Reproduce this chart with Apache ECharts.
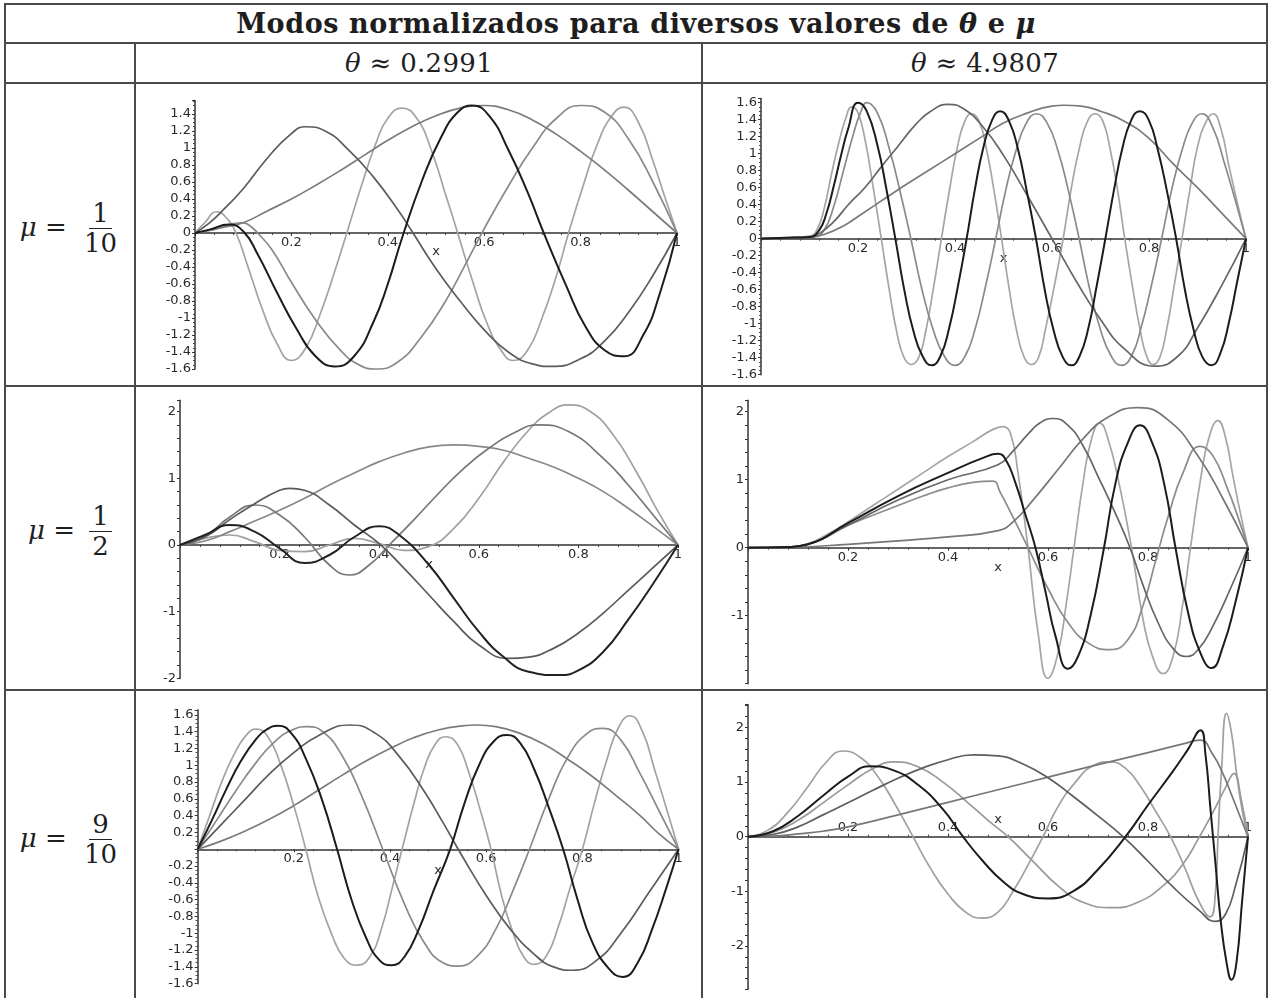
<!DOCTYPE html>
<html>
<head>
<meta charset="utf-8">
<script src="https://cdn.jsdelivr.net/npm/echarts/dist/echarts.min.js"></script>
<style>
  html, body { margin: 0; padding: 0; background: #fff; }
  #page { position: relative; width: 1272px; height: 998px; overflow: hidden; font-family: "DejaVu Serif", serif; color: #1e1e1e; }
  .hl { position: absolute; height: 2px; background: #4a4a4a; }
  .vl { position: absolute; width: 2px; background: #4a4a4a; }
  .txt { position: absolute; text-align: center; white-space: nowrap; }
  .frac { display: inline-flex; flex-direction: column; align-items: center; vertical-align: middle; line-height: 1.05; margin-left: 6px; }
  .frac .num { border-bottom: 1.6px solid #222; padding: 0 3px 1px 3px; }
  .frac .den { padding: 1px 3px 0 3px; }
  #chart { position: absolute; left: 0; top: 0; width: 1272px; height: 998px; }
</style>
</head>
<body>
<div id="page">
  <div class="hl" style="left:4px;top:3px;width:1264px"></div>
  <div class="hl" style="left:4px;top:42px;width:1264px"></div>
  <div class="hl" style="left:4px;top:82px;width:1264px"></div>
  <div class="hl" style="left:4px;top:385px;width:1264px"></div>
  <div class="hl" style="left:4px;top:689px;width:1264px"></div>
  <div class="vl" style="left:4px;top:3px;height:995px"></div>
  <div class="vl" style="left:1266px;top:3px;height:995px"></div>
  <div class="vl" style="left:134px;top:42px;height:956px"></div>
  <div class="vl" style="left:701px;top:42px;height:956px"></div>

  <div class="txt" style="left:4px;width:1264px;top:5px;line-height:37px;font-size:27px;letter-spacing:0.6px;font-weight:bold">Modos normalizados para diversos valores de <i>θ</i> e <i>μ</i></div>
  <div class="txt" style="left:136px;width:566px;top:44px;line-height:38px;font-size:26px;letter-spacing:0.3px"><i>θ</i> ≈ 0.2991</div>
  <div class="txt" style="left:703px;width:564px;top:44px;line-height:38px;font-size:26px;letter-spacing:0.3px"><i>θ</i> ≈ 4.9807</div>

  <div class="txt" style="left:6px;width:128px;top:200px;font-size:26px"><i>μ</i> = <span class="frac"><span class="num">1</span><span class="den">10</span></span></div>
  <div class="txt" style="left:6px;width:128px;top:503px;font-size:26px"><i>μ</i> = <span class="frac"><span class="num">1</span><span class="den">2</span></span></div>
  <div class="txt" style="left:6px;width:128px;top:811px;font-size:26px"><i>μ</i> = <span class="frac"><span class="num">9</span><span class="den">10</span></span></div>

  <div id="chart"></div>
</div>
<script>
// x tick values shared by every panel
const xTicks = [0.2, 0.4, 0.6, 0.8, 1];

// mu = 1/10, theta ~ 0.2991
const p1Mode1 = [[0,0],[0.03,0.03],[0.06,0.07],[0.1,0.12],[0.15,0.26],[0.2,0.4],[0.25,0.56],[0.3,0.73],[0.35,0.91],[0.4,1.09],[0.45,1.25],[0.5,1.38],[0.55,1.47],[0.6,1.5],[0.65,1.45],[0.7,1.33],[0.75,1.16],[0.8,0.96],[0.85,0.74],[0.9,0.5],[0.95,0.25],[1,0]];
const p1Mode2 = [[0,0],[0.03,0.12],[0.06,0.28],[0.1,0.52],[0.15,0.88],[0.2,1.17],[0.23,1.25],[0.27,1.2],[0.32,0.97],[0.37,0.66],[0.42,0.28],[0.45,0.02],[0.5,-0.42],[0.55,-0.8],[0.6,-1.14],[0.65,-1.4],[0.7,-1.54],[0.74,-1.57],[0.8,-1.48],[0.85,-1.27],[0.9,-0.93],[0.95,-0.5],[1,0]];
const p1Mode3 = [[0,0],[0.04,0.05],[0.08,0.11],[0.1,0.12],[0.115,0.08],[0.13,0],[0.16,-0.2],[0.2,-0.58],[0.25,-1.02],[0.3,-1.37],[0.34,-1.55],[0.375,-1.6],[0.42,-1.52],[0.47,-1.22],[0.52,-0.8],[0.56,-0.38],[0.6,0.05],[0.65,0.55],[0.7,1.0],[0.75,1.35],[0.8,1.5],[0.85,1.42],[0.9,1.1],[0.95,0.6],[1,0]];
const p1Mode4 = [[0,0],[0.03,0.04],[0.07,0.1],[0.1,0.02],[0.13,-0.25],[0.17,-0.7],[0.21,-1.12],[0.25,-1.45],[0.29,-1.57],[0.33,-1.45],[0.37,-1.05],[0.4,-0.6],[0.43,-0.05],[0.47,0.6],[0.51,1.12],[0.545,1.42],[0.575,1.5],[0.61,1.38],[0.65,0.98],[0.69,0.48],[0.725,-0.02],[0.77,-0.62],[0.81,-1.1],[0.85,-1.38],[0.89,-1.45],[0.93,-1.2],[0.965,-0.7],[1,0]];
const p1Mode5 = [[0,0],[0.02,0.12],[0.045,0.25],[0.065,0.18],[0.085,0],[0.11,-0.4],[0.14,-0.9],[0.17,-1.3],[0.2,-1.5],[0.23,-1.35],[0.26,-0.95],[0.29,-0.45],[0.315,0],[0.345,0.55],[0.375,1.05],[0.4,1.35],[0.43,1.47],[0.46,1.35],[0.49,0.98],[0.52,0.45],[0.545,0],[0.575,-0.55],[0.605,-1.05],[0.635,-1.38],[0.66,-1.5],[0.69,-1.38],[0.72,-1.0],[0.75,-0.5],[0.775,0],[0.805,0.55],[0.835,1.05],[0.865,1.38],[0.89,1.48],[0.92,1.3],[0.95,0.85],[0.975,0.42],[1,0]];

// mu = 1/10, theta ~ 4.9807
const p2Mode1 = [[0,0],[0.05,0.01],[0.1,0.02],[0.13,0.05],[0.17,0.15],[0.21,0.3],[0.26,0.49],[0.3,0.64],[0.35,0.82],[0.4,1.0],[0.45,1.18],[0.5,1.36],[0.55,1.48],[0.6,1.56],[0.625,1.57],[0.66,1.56],[0.7,1.5],[0.75,1.38],[0.8,1.18],[0.85,0.88],[0.9,0.6],[0.95,0.3],[1,0]];
const p2Mode2 = [[0,0],[0.05,0.01],[0.1,0.02],[0.12,0.06],[0.15,0.2],[0.18,0.4],[0.214,0.6],[0.25,0.86],[0.28,1.07],[0.32,1.35],[0.35,1.5],[0.386,1.58],[0.42,1.52],[0.46,1.3],[0.5,0.98],[0.55,0.5],[0.6,0],[0.65,-0.5],[0.7,-0.95],[0.75,-1.3],[0.812,-1.5],[0.86,-1.38],[0.9,-1.05],[0.95,-0.55],[1,0]];
const p2Mode3 = [[0,0],[0.05,0.01],[0.11,0.02],[0.13,0.1],[0.15,0.38],[0.17,0.8],[0.19,1.22],[0.205,1.48],[0.218,1.6],[0.24,1.48],[0.265,1.05],[0.287,0.55],[0.309,0],[0.332,-0.6],[0.355,-1.07],[0.378,-1.38],[0.4,-1.49],[0.421,-1.38],[0.442,-1.05],[0.463,-0.56],[0.484,0],[0.505,0.58],[0.526,1.04],[0.547,1.36],[0.568,1.47],[0.59,1.36],[0.612,1.04],[0.634,0.56],[0.656,0],[0.678,-0.6],[0.7,-1.07],[0.722,-1.38],[0.743,-1.49],[0.764,-1.38],[0.784,-1.04],[0.805,-0.55],[0.826,0],[0.847,0.58],[0.868,1.04],[0.889,1.36],[0.909,1.47],[0.932,1.3],[0.955,0.9],[0.978,0.45],[1,0]];
const p2Mode4 = [[0,0],[0.05,0.01],[0.1,0.02],[0.12,0.1],[0.135,0.3],[0.15,0.62],[0.165,0.98],[0.18,1.3],[0.2,1.6],[0.218,1.5],[0.24,1.1],[0.258,0.6],[0.277,0],[0.296,-0.62],[0.314,-1.08],[0.333,-1.38],[0.352,-1.49],[0.37,-1.38],[0.388,-1.05],[0.406,-0.56],[0.424,0],[0.441,0.58],[0.458,1.06],[0.476,1.39],[0.493,1.5],[0.511,1.39],[0.53,1.05],[0.548,0.56],[0.567,0],[0.585,-0.6],[0.603,-1.07],[0.622,-1.39],[0.64,-1.49],[0.657,-1.38],[0.675,-1.05],[0.692,-0.56],[0.71,0],[0.728,0.58],[0.745,1.06],[0.763,1.39],[0.781,1.5],[0.8,1.39],[0.818,1.05],[0.837,0.56],[0.856,0],[0.874,-0.6],[0.892,-1.07],[0.91,-1.39],[0.929,-1.49],[0.947,-1.35],[0.965,-0.98],[0.982,-0.5],[1,0]];
const p2Mode5 = [[0,0],[0.05,0.01],[0.1,0.03],[0.115,0.1],[0.13,0.35],[0.145,0.75],[0.16,1.12],[0.175,1.42],[0.187,1.55],[0.2,1.48],[0.215,1.15],[0.23,0.65],[0.248,0],[0.265,-0.62],[0.28,-1.1],[0.295,-1.4],[0.31,-1.48],[0.325,-1.4],[0.34,-1.08],[0.355,-0.6],[0.372,0],[0.39,0.62],[0.405,1.08],[0.42,1.38],[0.434,1.47],[0.45,1.38],[0.465,1.05],[0.48,0.58],[0.496,0],[0.512,-0.6],[0.527,-1.08],[0.543,-1.4],[0.557,-1.48],[0.572,-1.4],[0.587,-1.05],[0.605,-0.55],[0.623,0],[0.64,0.6],[0.657,1.08],[0.673,1.38],[0.689,1.47],[0.705,1.38],[0.72,1.05],[0.735,0.58],[0.75,0],[0.767,-0.6],[0.782,-1.08],[0.795,-1.38],[0.808,-1.48],[0.822,-1.4],[0.837,-1.05],[0.852,-0.55],[0.868,0],[0.885,0.6],[0.9,1.08],[0.918,1.38],[0.932,1.47],[0.948,1.3],[0.965,0.85],[0.983,0.4],[1,0]];

// mu = 1/2, theta ~ 0.2991
const p3Mode1 = [[0,0],[0.05,0.06],[0.1,0.2],[0.15,0.36],[0.2,0.52],[0.25,0.7],[0.3,0.9],[0.35,1.08],[0.4,1.25],[0.45,1.38],[0.5,1.47],[0.55,1.5],[0.6,1.48],[0.65,1.42],[0.7,1.3],[0.75,1.17],[0.8,1.0],[0.85,0.8],[0.9,0.55],[0.95,0.28],[1,0]];
const p3Mode2 = [[0,0],[0.05,0.12],[0.1,0.38],[0.15,0.62],[0.2,0.82],[0.22,0.85],[0.25,0.82],[0.3,0.6],[0.35,0.3],[0.4,0.02],[0.45,-0.35],[0.5,-0.75],[0.55,-1.15],[0.6,-1.5],[0.66,-1.7],[0.7,-1.68],[0.75,-1.55],[0.8,-1.32],[0.85,-1.02],[0.9,-0.68],[0.95,-0.34],[1,0]];
const p3Mode3 = [[0,0],[0.05,0.13],[0.1,0.42],[0.15,0.6],[0.2,0.45],[0.25,0.12],[0.3,-0.3],[0.34,-0.45],[0.38,-0.3],[0.42,0],[0.47,0.38],[0.52,0.78],[0.57,1.15],[0.62,1.45],[0.67,1.68],[0.72,1.8],[0.78,1.7],[0.85,1.3],[0.9,0.9],[0.95,0.45],[1,0]];
const p3Mode4 = [[0,0],[0.05,0.1],[0.1,0.15],[0.15,0.05],[0.2,-0.08],[0.25,-0.1],[0.3,0.0],[0.35,0.1],[0.4,0.02],[0.45,-0.08],[0.5,-0.02],[0.55,0.25],[0.6,0.7],[0.65,1.25],[0.7,1.72],[0.74,1.98],[0.78,2.1],[0.82,2.02],[0.87,1.65],[0.92,1.05],[0.96,0.5],[1,0]];
const p3Mode5 = [[0,0],[0.05,0.15],[0.1,0.3],[0.15,0.2],[0.2,-0.05],[0.25,-0.27],[0.3,-0.15],[0.35,0.12],[0.4,0.28],[0.44,0.15],[0.5,-0.3],[0.55,-0.8],[0.6,-1.3],[0.65,-1.68],[0.7,-1.9],[0.76,-1.95],[0.8,-1.88],[0.85,-1.6],[0.9,-1.12],[0.95,-0.58],[1,0]];

// mu = 1/2, theta ~ 4.9807
const p4Mode1 = [[0,0],[0.1,0.01],[0.2,0.05],[0.3,0.1],[0.4,0.16],[0.5,0.25],[0.53,0.38],[0.57,0.7],[0.62,1.15],[0.67,1.6],[0.72,1.92],[0.78,2.06],[0.84,1.88],[0.9,1.35],[0.95,0.72],[1,0]];
const p4Mode2 = [[0,0],[0.08,0.01],[0.12,0.05],[0.2,0.33],[0.3,0.7],[0.4,1.0],[0.5,1.22],[0.53,1.42],[0.56,1.67],[0.585,1.84],[0.61,1.9],[0.64,1.8],[0.67,1.5],[0.7,1.05],[0.735,0.5],[0.764,0],[0.79,-0.55],[0.82,-1.1],[0.85,-1.48],[0.877,-1.6],[0.9,-1.5],[0.93,-1.15],[0.965,-0.6],[1,0]];
const p4Mode3 = [[0,0],[0.08,0.01],[0.12,0.05],[0.2,0.33],[0.3,0.62],[0.35,0.76],[0.4,0.88],[0.45,0.96],[0.49,0.98],[0.504,0.82],[0.53,0.45],[0.56,0],[0.6,-0.6],[0.64,-1.1],[0.68,-1.4],[0.724,-1.5],[0.76,-1.35],[0.79,-0.85],[0.815,-0.2],[0.84,0.45],[0.87,1.1],[0.904,1.49],[0.93,1.35],[0.96,0.85],[0.98,0.45],[1,0]];
const p4Mode4 = [[0,0],[0.08,0.01],[0.12,0.05],[0.2,0.36],[0.3,0.76],[0.4,1.1],[0.47,1.32],[0.5,1.38],[0.515,1.3],[0.535,0.95],[0.555,0.48],[0.575,0],[0.595,-0.65],[0.615,-1.3],[0.64,-1.78],[0.66,-1.6],[0.685,-1.0],[0.712,0],[0.735,0.95],[0.76,1.55],[0.784,1.8],[0.808,1.55],[0.832,0.95],[0.855,0],[0.88,-0.95],[0.905,-1.55],[0.927,-1.77],[0.95,-1.45],[0.975,-0.8],[1,0]];
const p4Mode5 = [[0,0],[0.08,0.01],[0.12,0.06],[0.16,0.2],[0.2,0.38],[0.25,0.62],[0.3,0.86],[0.35,1.1],[0.4,1.34],[0.45,1.56],[0.49,1.74],[0.51,1.78],[0.525,1.68],[0.54,1.1],[0.56,0],[0.58,-1.25],[0.6,-1.92],[0.62,-1.55],[0.637,-0.8],[0.652,0],[0.67,0.95],[0.687,1.6],[0.704,1.83],[0.72,1.6],[0.742,0.95],[0.767,0],[0.79,-1.05],[0.81,-1.62],[0.83,-1.85],[0.85,-1.6],[0.868,-0.9],[0.885,0],[0.905,1.0],[0.922,1.62],[0.94,1.87],[0.955,1.62],[0.97,1.05],[0.985,0.5],[1,0]];

// mu = 9/10, theta ~ 0.2991
const p5Mode1 = [[0,0],[0.05,0.1],[0.1,0.22],[0.15,0.36],[0.2,0.52],[0.25,0.7],[0.3,0.88],[0.35,1.05],[0.4,1.2],[0.45,1.33],[0.5,1.42],[0.55,1.47],[0.58,1.48],[0.62,1.46],[0.67,1.38],[0.72,1.25],[0.77,1.07],[0.82,0.87],[0.87,0.64],[0.92,0.4],[0.96,0.18],[1,0]];
const p5Mode2 = [[0,0],[0.05,0.3],[0.1,0.6],[0.15,0.9],[0.2,1.15],[0.25,1.35],[0.317,1.48],[0.37,1.38],[0.42,1.1],[0.47,0.7],[0.51,0.32],[0.55,-0.08],[0.6,-0.55],[0.65,-0.95],[0.7,-1.25],[0.74,-1.4],[0.78,-1.44],[0.83,-1.32],[0.88,-1.0],[0.94,-0.5],[1,0]];
const p5Mode3 = [[0,0],[0.04,0.35],[0.08,0.7],[0.12,1.02],[0.16,1.28],[0.2,1.43],[0.227,1.46],[0.26,1.4],[0.3,1.12],[0.34,0.65],[0.385,0],[0.43,-0.65],[0.47,-1.1],[0.51,-1.35],[0.542,-1.39],[0.58,-1.28],[0.62,-0.95],[0.655,-0.5],[0.69,0],[0.73,0.6],[0.77,1.1],[0.81,1.38],[0.842,1.44],[0.88,1.3],[0.92,0.9],[0.96,0.45],[1,0]];
const p5Mode4 = [[0,0],[0.03,0.35],[0.06,0.72],[0.09,1.05],[0.12,1.3],[0.145,1.43],[0.167,1.47],[0.195,1.38],[0.225,1.08],[0.258,0.6],[0.29,0],[0.32,-0.6],[0.35,-1.05],[0.378,-1.32],[0.403,-1.38],[0.43,-1.28],[0.46,-0.95],[0.49,-0.5],[0.525,0],[0.555,0.55],[0.585,1.0],[0.615,1.28],[0.643,1.36],[0.67,1.27],[0.7,0.95],[0.73,0.5],[0.76,0],[0.79,-0.6],[0.82,-1.1],[0.855,-1.42],[0.884,-1.52],[0.915,-1.35],[0.945,-0.95],[0.975,-0.45],[1,0]];
const p5Mode5 = [[0,0],[0.025,0.4],[0.05,0.8],[0.075,1.12],[0.1,1.35],[0.122,1.43],[0.145,1.35],[0.17,1.05],[0.2,0.52],[0.225,0],[0.25,-0.55],[0.278,-1.0],[0.305,-1.3],[0.332,-1.38],[0.358,-1.28],[0.382,-0.95],[0.405,-0.45],[0.425,0],[0.45,0.55],[0.472,0.98],[0.495,1.26],[0.516,1.34],[0.54,1.25],[0.563,0.93],[0.587,0.48],[0.61,0],[0.632,-0.55],[0.655,-0.98],[0.678,-1.28],[0.7,-1.37],[0.725,-1.27],[0.75,-0.92],[0.775,-0.45],[0.8,0],[0.825,0.55],[0.85,1.05],[0.875,1.45],[0.899,1.59],[0.925,1.4],[0.95,0.95],[0.975,0.48],[1,0]];

// mu = 9/10, theta ~ 4.9807
const p6Mode1 = [[0,0],[0.05,0.01],[0.1,0.05],[0.15,0.1],[0.2,0.18],[0.3,0.4],[0.4,0.63],[0.5,0.86],[0.6,1.09],[0.7,1.32],[0.8,1.54],[0.87,1.7],[0.904,1.77],[0.93,1.5],[0.95,1.15],[0.97,0.7],[1,0]];
const p6Mode2 = [[0,0],[0.05,0.04],[0.1,0.18],[0.15,0.4],[0.2,0.62],[0.25,0.85],[0.3,1.07],[0.35,1.26],[0.4,1.41],[0.45,1.5],[0.5,1.48],[0.55,1.33],[0.6,1.08],[0.65,0.74],[0.7,0.38],[0.75,0],[0.8,-0.45],[0.85,-0.92],[0.9,-1.33],[0.935,-1.55],[0.955,-1.42],[0.975,-0.9],[1,0]];
const p6Mode3 = [[0,0],[0.05,0.08],[0.1,0.3],[0.15,0.62],[0.2,0.95],[0.25,1.25],[0.292,1.37],[0.34,1.28],[0.39,1.0],[0.44,0.62],[0.48,0.3],[0.52,0],[0.57,-0.45],[0.62,-0.9],[0.67,-1.2],[0.73,-1.3],[0.78,-1.2],[0.83,-0.9],[0.87,-0.5],[0.9,-0.05],[0.93,0.45],[0.955,0.9],[0.972,1.16],[0.986,0.7],[1,0]];
const p6Mode4 = [[0,0],[0.05,0.1],[0.1,0.38],[0.15,0.75],[0.2,1.1],[0.245,1.29],[0.29,1.22],[0.34,0.95],[0.39,0.5],[0.43,0],[0.47,-0.45],[0.51,-0.82],[0.55,-1.05],[0.6,-1.13],[0.65,-1.0],[0.7,-0.6],[0.755,0],[0.8,0.58],[0.85,1.2],[0.88,1.6],[0.905,1.95],[0.915,1.5],[0.925,0.5],[0.935,-0.5],[0.945,-1.5],[0.957,-2.3],[0.967,-2.62],[0.977,-2.3],[0.988,-1.2],[1,0]];
const p6Mode5 = [[0,0],[0.04,0.12],[0.08,0.45],[0.12,0.92],[0.155,1.35],[0.19,1.57],[0.225,1.45],[0.26,1.1],[0.295,0.58],[0.33,0],[0.365,-0.58],[0.4,-1.05],[0.435,-1.38],[0.466,-1.49],[0.5,-1.38],[0.53,-1.0],[0.56,-0.52],[0.59,0],[0.62,0.55],[0.655,1.0],[0.69,1.3],[0.724,1.37],[0.755,1.25],[0.785,0.92],[0.815,0.47],[0.845,0],[0.875,-0.6],[0.9,-1.15],[0.924,-1.47],[0.935,-1.0],[0.94,0],[0.947,1.2],[0.957,2.26],[0.967,1.9],[0.978,1.1],[0.99,0.4],[1,0]];

// layout of each plot inside its table cell (pixels), kept apart from the data
const panels = [
    { left: 195, width: 482, zeroY: 233, scale: 85, yMin: -1.6, yMax: 1.56, tick: 0.2, labelStep: 0.2, hide: [], nameDy: 19,
      curves: [p1Mode5, p1Mode3, p1Mode1, p1Mode2, p1Mode4], colors: ['#a3a3a3', '#8a8a8a', '#7c7c7c', '#5c5c5c', '#1c1c1c'] },
    { left: 761, width: 485, zeroY: 238.7, scale: 85, yMin: -1.6, yMax: 1.65, tick: 0.2, labelStep: 0.2, hide: [], nameDy: 20,
      curves: [p2Mode5, p2Mode3, p2Mode1, p2Mode2, p2Mode4], colors: ['#a5a5a5', '#8a8a8a', '#7a7a7a', '#666666', '#1c1c1c'] },
    { left: 180, width: 498, zeroY: 545, scale: 66.7, yMin: -2, yMax: 2.17, tick: 0.2, labelStep: 1, hide: [], nameDy: 20,
      curves: [p3Mode4, p3Mode1, p3Mode3, p3Mode2, p3Mode5], colors: ['#a0a0a0', '#888888', '#777777', '#5a5a5a', '#222222'] },
    { left: 748, width: 500, zeroY: 547.7, scale: 68, yMin: -2, yMax: 2.17, tick: 0.2, labelStep: 1, hide: [-2], nameDy: 20,
      curves: [p4Mode5, p4Mode3, p4Mode1, p4Mode2, p4Mode4], colors: ['#a5a5a5', '#8c8c8c', '#777777', '#666666', '#1c1c1c'] },
    { left: 197.6, width: 481, zeroY: 849.3, scale: 84, yMin: -1.6, yMax: 1.66, tick: 0.2, labelStep: 0.2, hide: [0], nameDy: 21,
      curves: [p5Mode5, p5Mode3, p5Mode1, p5Mode2, p5Mode4], colors: ['#a3a3a3', '#8a8a8a', '#7c7c7c', '#5c5c5c', '#1c1c1c'] },
    { left: 748, width: 500, zeroY: 836.7, scale: 54.6, yMin: -2.8, yMax: 2.42, tick: 0.2, labelStep: 1, hide: [], nameDy: -17,
      curves: [p6Mode5, p6Mode3, p6Mode1, p6Mode2, p6Mode4], colors: ['#a0a0a0', '#999999', '#777777', '#5e5e5e', '#1c1c1c'] }
];

const chart = echarts.init(document.getElementById('chart'));

const labelFont = { fontFamily: 'DejaVu Sans, sans-serif', fontSize: 13, color: '#2a2a2a' };

function fmt(v) {
    return String(parseFloat(v.toFixed(1)));
}

const grids = [];
const xAxes = [];
const yAxes = [];
const series = [];
const axisNames = [];

panels.forEach(function (p, i) {
    const above = p.nameDy < 0;
    grids.push({
        left: p.left,
        width: p.width,
        top: p.zeroY - p.yMax * p.scale,
        height: (p.yMax - p.yMin) * p.scale
    });
    // x axis sits on y = 0: shift it up from the grid bottom
    xAxes.push({
        type: 'value',
        gridIndex: i,
        position: 'bottom',
        offset: p.yMin * p.scale,
        min: 0,
        max: 1,
        interval: 0.2,
        axisLine: { onZero: false, lineStyle: { color: '#333', width: 1.5 } },
        axisTick: { length: 3, inside: above, lineStyle: { color: '#333' } },
        minorTick: { show: true, splitNumber: 5, length: 2, lineStyle: { color: '#444' } },
        splitLine: { show: false },
        axisLabel: Object.assign({
            margin: 3,
            inside: above,
            formatter: function (v) {
                return xTicks.some(t => Math.abs(t - v) < 1e-6) ? fmt(v) : '';
            }
        }, labelFont)
    });
    yAxes.push({
        type: 'value',
        gridIndex: i,
        min: p.yMin,
        max: p.yMax,
        interval: p.tick,
        axisLine: { onZero: false, lineStyle: { color: '#333', width: 1.5 } },
        axisTick: { length: 3, lineStyle: { color: '#333' } },
        minorTick: { show: p.labelStep < 1, splitNumber: 4, length: 2, lineStyle: { color: '#444' } },
        splitLine: { show: false },
        axisLabel: Object.assign({
            margin: 4,
            formatter: function (v) {
                const k = v / p.labelStep;
                if (Math.abs(k - Math.round(k)) > 1e-6) return '';
                const r = Math.round(k) * p.labelStep;
                if (p.hide.some(h => Math.abs(h - r) < 1e-6)) return '';
                return fmt(r);
            }
        }, labelFont)
    });
    // axis title "x", placed at mid-axis
    axisNames.push({
        type: 'text',
        x: p.left + p.width / 2,
        y: p.zeroY + p.nameDy,
        silent: true,
        style: {
            text: 'x',
            align: 'center',
            verticalAlign: 'middle',
            font: '13px "DejaVu Sans", sans-serif',
            fill: '#2a2a2a'
        }
    });
    p.curves.forEach(function (c, j) {
        const isBlack = j === p.curves.length - 1;
        series.push({
            type: 'line',
            xAxisIndex: i,
            yAxisIndex: i,
            data: c,
            showSymbol: false,
            smooth: 0.5,
            silent: true,
            clip: false,
            z: 2 + j,
            lineStyle: { color: p.colors[j], width: isBlack ? 2 : 1.7 }
        });
    });
});

chart.setOption({
    animation: false,
    grid: grids,
    xAxis: xAxes,
    yAxis: yAxes,
    series: series,
    graphic: axisNames
});
</script>
</body>
</html>
